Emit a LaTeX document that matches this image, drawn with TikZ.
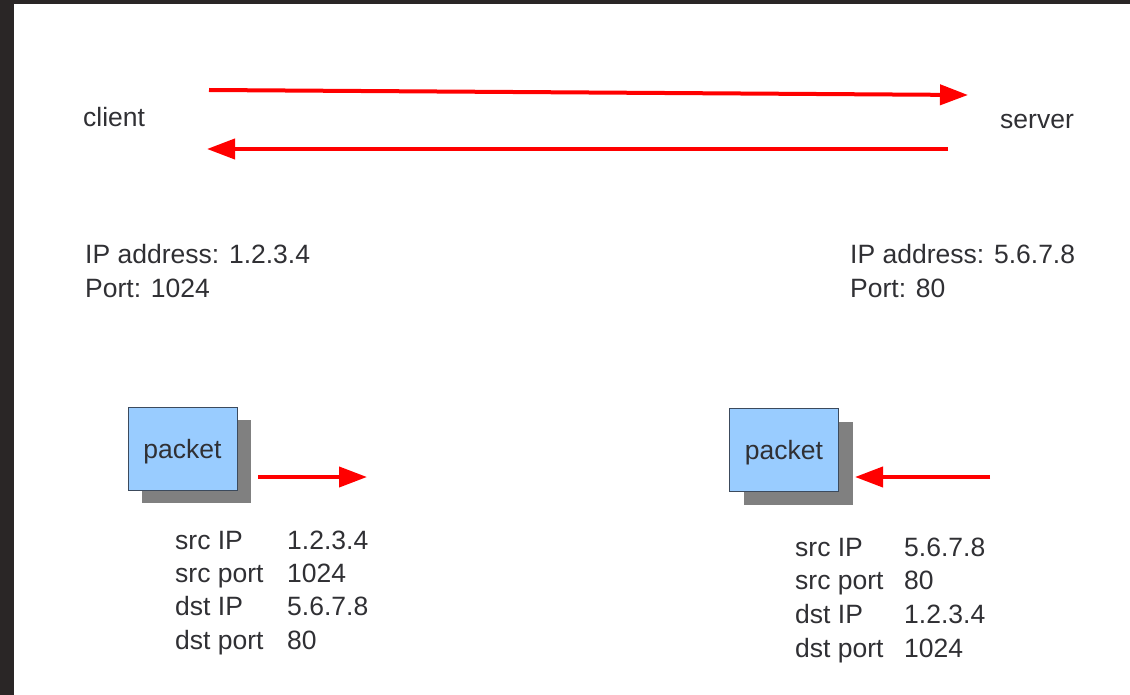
\documentclass[tikz,border=0pt]{standalone}
\usepackage{fontspec}
\setmainfont{Liberation Sans}
\usetikzlibrary{arrows.meta,shadows}
\definecolor{slideBg}{RGB}{42,38,38}
\definecolor{txtC}{RGB}{48,48,52}
\definecolor{pktFill}{RGB}{153,204,255}
\definecolor{pktLine}{RGB}{60,74,92}

\begin{document}
\begin{tikzpicture}[x=1pt,y=-1pt,>={Triangle[length=28pt,width=20pt]},
  every node/.style={text=txtC,font=\fontsize{26.5}{32}\selectfont,inner sep=0pt},
  lbl/.style={anchor=base west},
  flow/.style={->,red,line width=4pt},
  pkt/.style={draw=pktLine,line width=1pt,fill=pktFill,minimum width=109pt,minimum height=83pt,
    text height=19pt,text depth=0pt,
    drop shadow={shadow xshift=14pt,shadow yshift=-13pt,fill=black!50,opacity=1}}]
\fill[slideBg] (0,0) rectangle (1130,695);
\fill[white] (14,4) rectangle (1130,695);

% the two hosts
\node[lbl] (client) at (83,127) {client};
\node[lbl] (server) at (1000,129) {server};
\coordinate (c1) at (209,90);
\coordinate (s1) at (968,95);
\coordinate (s2) at (948,149);
\coordinate (c2) at (207,149);
\draw[flow] (c1)--(s1);
\draw[flow] (s2)--(c2);

\node[lbl] (cip) at (85,263) {IP address: 1.2.3.4};
\node[lbl] (cport) at (85,298) {Port: 1024};
\node[lbl] (sip) at (850,263) {IP address: 5.6.7.8};
\node[lbl] (sport) at (850,298) {Port: 80};

% packets
\node[pkt] (pktA) at (182.5,448.5) {packet};
\node[pkt] (pktB) at (784,450) {packet};
\coordinate (a1) at (258,477);
\coordinate (a2) at (367,477);
\coordinate (b1) at (990,477);
\coordinate (b2) at (855,477);
\draw[flow] (a1)--(a2);
\draw[flow] (b1)--(b2);

% header fields
\foreach \k/\v/\w [count=\i from 0] in {src IP/1.2.3.4/5.6.7.8,src port/1024/80,dst IP/5.6.7.8/1.2.3.4,dst port/80/1024}{
  \node[lbl] (fa\i) at (175,549+33.4*\i) {\k};
  \node[lbl] (va\i) at (287,549+33.4*\i) {\v};
  \node[lbl] (fb\i) at (795,556+33.7*\i) {\k};
  \node[lbl] (vb\i) at (904,556+33.7*\i) {\w};
}
\end{tikzpicture}
\end{document}
